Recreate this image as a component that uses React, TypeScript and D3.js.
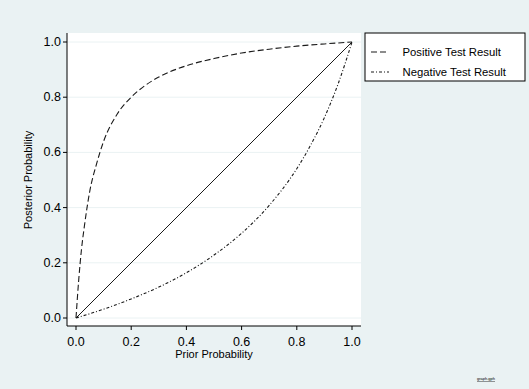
import React from "react";
import * as d3 from "d3";

const xTicks = [0, 0.2, 0.4, 0.6, 0.8, 1.0];
const yTicks = [0, 0.2, 0.4, 0.6, 0.8, 1.0];

const posPrior = [0, 0.01, 0.02, 0.03, 0.05, 0.075, 0.1, 0.15, 0.2, 0.25, 0.3, 0.4, 0.5, 0.6, 0.7, 0.8, 0.9, 1.0];
const posPost = [0, 0.14, 0.25, 0.33, 0.46, 0.56, 0.64, 0.74, 0.8, 0.842, 0.873, 0.914, 0.94, 0.96, 0.974, 0.985, 0.993, 1.0];

const negPrior = [0, 0.1, 0.2, 0.3, 0.4, 0.5, 0.6, 0.7, 0.8, 0.85, 0.9, 0.95, 1.0];
const negPost = [0, 0.032, 0.069, 0.112, 0.164, 0.228, 0.307, 0.408, 0.541, 0.626, 0.726, 0.849, 1.0];

const diagPrior = [0, 1];
const diagPost = [0, 1];

const legendLabels = ["Positive Test Result", "Negative Test Result"];

const BG = "#EAF2F3";
const FONT = "'Liberation Sans', Arial, Helvetica, sans-serif";

export default function App() {
  const W = 529, H = 389;
  const plot = { left: 67, right: 361, top: 33, bottom: 326 };
  const x = d3.scaleLinear().domain([0, 1]).range([76, 352]);
  const y = d3.scaleLinear().domain([0, 1]).range([318, 42]);

  const line = d3
    .line<[number, number]>()
    .x((d) => x(d[0]))
    .y((d) => y(d[1]))
    .curve(d3.curveMonotoneX);

  const pos = posPrior.map((p, i) => [p, posPost[i]] as [number, number]);
  const neg = negPrior.map((p, i) => [p, negPost[i]] as [number, number]);
  const diag = diagPrior.map((p, i) => [p, diagPost[i]] as [number, number]);

  const fmt = d3.format(".1f");
  const lineColor = "#1a1a1a";

  return (
    <svg
      width={W}
      height={H}
      style={{ position: "absolute", left: 0, top: 0, fontFamily: FONT }}
    >
      <rect x={0} y={0} width={W} height={H} fill={BG} />
      <rect
        x={plot.left}
        y={plot.top}
        width={plot.right - plot.left}
        height={plot.bottom - plot.top}
        fill="#ffffff"
      />
      {yTicks.map((t) => (
        <line
          key={"g" + t}
          x1={plot.left}
          x2={plot.right}
          y1={y(t)}
          y2={y(t)}
          stroke={BG}
          strokeWidth={1}
        />
      ))}
      {/* axes */}
      <line x1={plot.left} x2={plot.left} y1={plot.top} y2={plot.bottom} stroke="#000" strokeWidth={1} />
      <line x1={plot.left} x2={plot.right} y1={plot.bottom} y2={plot.bottom} stroke="#000" strokeWidth={1} />
      {yTicks.map((t) => (
        <g key={"y" + t}>
          <line x1={plot.left - 4} x2={plot.left} y1={y(t)} y2={y(t)} stroke="#000" />
          <text
            x={plot.left - 6}
            y={y(t)}
            textAnchor="end"
            dominantBaseline="central"
            fontSize={12.5}
            fill="#000"
          >
            {fmt(t)}
          </text>
        </g>
      ))}
      {xTicks.map((t) => (
        <g key={"x" + t}>
          <line x1={x(t)} x2={x(t)} y1={plot.bottom} y2={plot.bottom + 4} stroke="#000" />
          <text x={x(t)} y={346} textAnchor="middle" fontSize={12.5} fill="#000">
            {fmt(t)}
          </text>
        </g>
      ))}
      <text x={x(0.5)} y={358} textAnchor="middle" fontSize={11} fill="#000">
        Prior Probability
      </text>
      <text
        transform={`translate(32, ${y(0.5)}) rotate(-90)`}
        textAnchor="middle"
        fontSize={11}
        fill="#000"
      >
        Posterior Probability
      </text>

      {/* curves */}
      <path d={line(diag) || ""} fill="none" stroke={lineColor} strokeWidth={1} />
      <path d={line(pos) || ""} fill="none" stroke={lineColor} strokeWidth={1.1} strokeDasharray="6,3" />
      <path d={line(neg) || ""} fill="none" stroke={lineColor} strokeWidth={1.1} strokeDasharray="3,2,1,2" />

      {/* legend */}
      <rect x={365} y={33} width={160} height={48} fill="#fff" stroke="#000" strokeWidth={1} />
      <line x1={371} x2={389} y1={52} y2={52} stroke={lineColor} strokeWidth={1.1} strokeDasharray="6,3" />
      <line x1={371} x2={389} y1={72} y2={72} stroke={lineColor} strokeWidth={1.1} strokeDasharray="3,2,1,2" />
      <text x={402.5} y={52} dominantBaseline="central" fontSize={11.3} fill="#000">
        {legendLabels[0]}
      </text>
      <text x={402.5} y={72} dominantBaseline="central" fontSize={11.3} fill="#000">
        {legendLabels[1]}
      </text>

      <text x={477} y={380} fontSize={4} fill="#000" textDecoration="underline">
        graph.gph
      </text>
    </svg>
  );
}
